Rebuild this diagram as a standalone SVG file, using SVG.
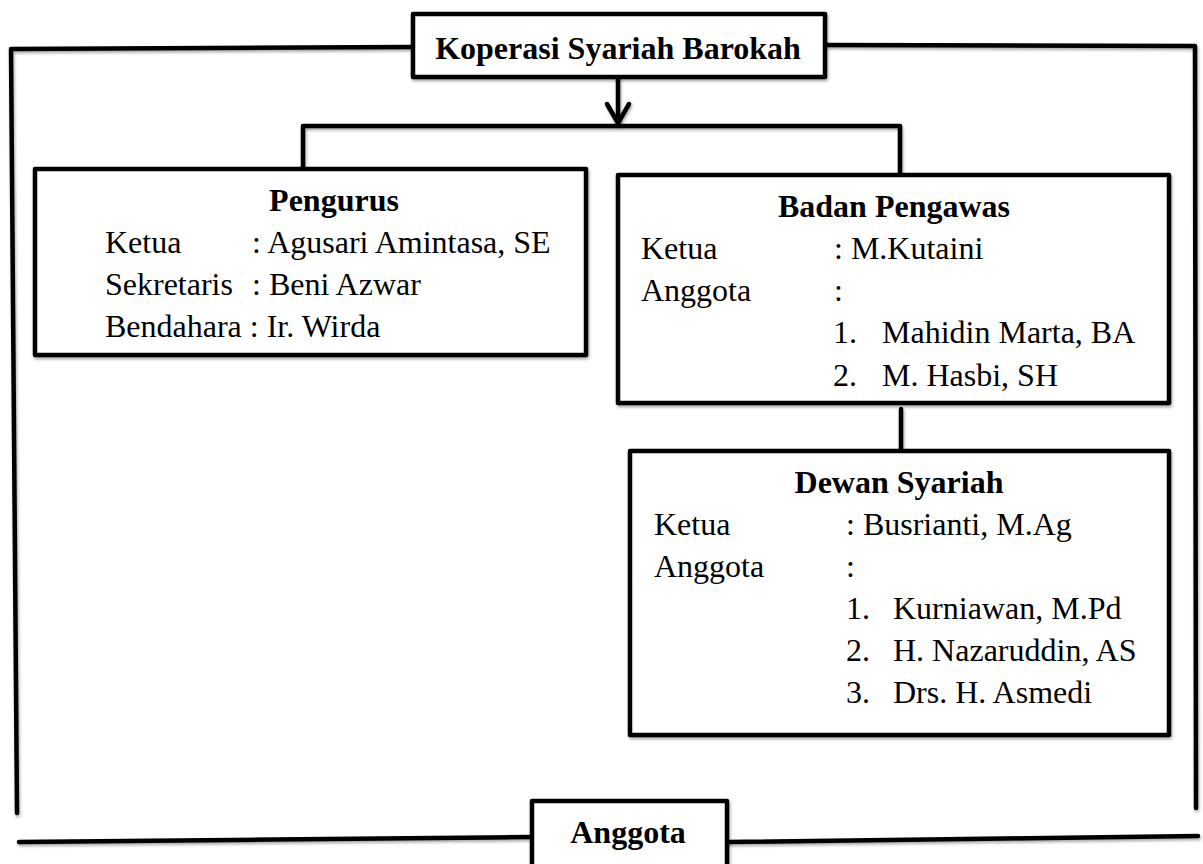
<svg xmlns="http://www.w3.org/2000/svg" width="1203" height="864" viewBox="0 0 1203 864">
  <defs>
    <filter id="sh" filterUnits="userSpaceOnUse" x="0" y="0" width="1203" height="864">
      <feDropShadow dx="1" dy="2" stdDeviation="1.5" flood-color="#000" flood-opacity="0.35"/>
    </filter>
  </defs>
  <style>
    .box { fill: #fff; stroke: #000; stroke-width: 4.5; stroke-linejoin: round; filter: url(#sh); }
    .ln { fill: none; stroke: #000; stroke-width: 4.5; stroke-linejoin: round; stroke-linecap: round; filter: url(#sh); }
    text { font-family: "Liberation Serif", "Times New Roman", serif; fill: #000; }
    .t { font-size: 32px; }
    .h { font-size: 32px; font-weight: bold; text-anchor: middle; }
    .title { font-size: 32px; font-weight: bold; text-anchor: middle; }
  </style>
  <rect width="1203" height="864" fill="#fff"/>

  <g id="connectors">
    <!-- left frame -->
    <polyline class="ln" points="412,47 11,49 17,813"/>
    <!-- right frame -->
    <polyline class="ln" points="827,45 1195,46 1196,808"/>
    <!-- bottom lines -->
    <polyline class="ln" points="19,842 532,837"/>
    <polyline class="ln" points="727,842 1198,836"/>
    <!-- arrow from top -->
    <line class="ln" x1="618" y1="77" x2="618" y2="123"/>
    <polyline class="ln" points="607,104 618,123 629,104"/>
    <!-- branch -->
    <polyline class="ln" points="303,168 303,126 900,126 900,175"/>
    <!-- BP to DS -->
    <line class="ln" x1="901" y1="409" x2="901" y2="451"/>
  </g>

  <g id="node-koperasi">
    <rect class="box" x="413" y="14" width="412" height="63"/>
    <text class="title" x="618" y="59">Koperasi Syariah Barokah</text>
  </g>

  <g id="node-pengurus">
    <rect class="box" x="35" y="169" width="551" height="186"/>
    <text class="h" x="334" y="211">Pengurus</text>
    <text class="t" x="105" y="253">Ketua</text>
    <text class="t" x="252" y="253">: Agusari Amintasa, SE</text>
    <text class="t" x="105" y="295">Sekretaris</text>
    <text class="t" x="252" y="295">: Beni Azwar</text>
    <text class="t" x="105" y="337">Bendahara : Ir. Wirda</text>
  </g>

  <g id="node-badan-pengawas">
    <rect class="box" x="618" y="175" width="551" height="228"/>
    <text class="h" x="894" y="217">Badan Pengawas</text>
    <text class="t" x="641" y="259">Ketua</text>
    <text class="t" x="834" y="259">: M.Kutaini</text>
    <text class="t" x="641" y="301">Anggota</text>
    <text class="t" x="834" y="301">:</text>
    <text class="t" x="833" y="343">1.</text>
    <text class="t" x="882" y="343">Mahidin Marta, BA</text>
    <text class="t" x="833" y="386">2.</text>
    <text class="t" x="882" y="386">M. Hasbi, SH</text>
  </g>

  <g id="node-dewan-syariah">
    <rect class="box" x="630" y="451" width="539" height="284"/>
    <text class="h" x="899" y="493">Dewan Syariah</text>
    <text class="t" x="654" y="535">Ketua</text>
    <text class="t" x="846" y="535">: Busrianti, M.Ag</text>
    <text class="t" x="654" y="577">Anggota</text>
    <text class="t" x="846" y="577">:</text>
    <text class="t" x="846" y="619">1.</text>
    <text class="t" x="893" y="619">Kurniawan, M.Pd</text>
    <text class="t" x="846" y="661">2.</text>
    <text class="t" x="893" y="661">H. Nazaruddin, AS</text>
    <text class="t" x="846" y="703">3.</text>
    <text class="t" x="893" y="703">Drs. H. Asmedi</text>
  </g>

  <g id="node-anggota">
    <rect class="box" x="532" y="801" width="195" height="80"/>
    <text class="h" x="628" y="843">Anggota</text>
  </g>
</svg>
